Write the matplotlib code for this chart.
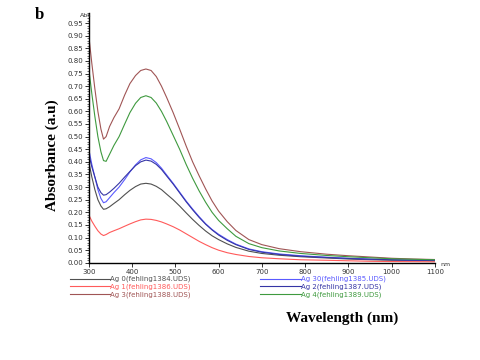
import matplotlib
matplotlib.use("Agg")
from matplotlib import pyplot as plt
from matplotlib.ticker import MultipleLocator, FormatStrFormatter

wl = [300, 307, 314, 321, 328, 334, 340, 348, 358, 370, 383, 395, 408, 420, 432,
      444, 456, 468, 480, 495, 510, 525, 540, 555, 570, 585, 600, 620, 640, 670,
      700, 740, 790, 850, 900, 950, 1000, 1050, 1100]

ag0 = [0.40, 0.34, 0.29, 0.25, 0.225, 0.212, 0.214, 0.222, 0.235, 0.25, 0.27, 0.287, 0.302, 0.312, 0.315,
       0.312, 0.303, 0.29, 0.272, 0.25, 0.225, 0.198, 0.172, 0.148, 0.126, 0.107, 0.092, 0.075, 0.061, 0.046,
       0.037, 0.030, 0.024, 0.019, 0.015, 0.012, 0.010, 0.009, 0.008]
ag1 = [0.19, 0.165, 0.145, 0.127, 0.114, 0.108, 0.112, 0.12, 0.127, 0.135, 0.145, 0.154, 0.163, 0.17, 0.173,
       0.172, 0.168, 0.162, 0.154, 0.143, 0.13, 0.115, 0.10, 0.085, 0.072, 0.06, 0.05, 0.04, 0.033, 0.025,
       0.02, 0.016, 0.012, 0.010, 0.008, 0.006, 0.005, 0.0045, 0.004]
ag3 = [0.90, 0.79, 0.69, 0.60, 0.53, 0.49, 0.50, 0.54, 0.575, 0.61, 0.665, 0.71, 0.742, 0.762, 0.768,
       0.762, 0.738, 0.70, 0.655, 0.595, 0.53, 0.463, 0.40, 0.345, 0.293, 0.245, 0.205, 0.163, 0.128, 0.092,
       0.072, 0.056, 0.044, 0.034, 0.028, 0.023, 0.018, 0.015, 0.013]
ag30 = [0.45, 0.39, 0.34, 0.29, 0.255, 0.238, 0.242, 0.258, 0.278, 0.30, 0.33, 0.36, 0.388, 0.408, 0.417,
        0.412, 0.397, 0.375, 0.348, 0.315, 0.28, 0.245, 0.213, 0.183, 0.155, 0.132, 0.113, 0.092, 0.074, 0.055,
        0.044, 0.035, 0.028, 0.022, 0.018, 0.015, 0.013, 0.011, 0.010]
ag2 = [0.43, 0.38, 0.34, 0.30, 0.278, 0.268, 0.27, 0.28, 0.295, 0.315, 0.34, 0.362, 0.385, 0.40, 0.407,
       0.403, 0.39, 0.37, 0.344, 0.312, 0.277, 0.242, 0.21, 0.18, 0.153, 0.13, 0.11, 0.089, 0.072, 0.053,
       0.042, 0.033, 0.026, 0.021, 0.017, 0.014, 0.012, 0.010, 0.009]
ag4 = [0.77, 0.67, 0.58, 0.50, 0.44, 0.405, 0.402, 0.43, 0.465, 0.50, 0.55, 0.595, 0.632, 0.655, 0.662,
       0.655, 0.633, 0.60, 0.56, 0.505, 0.45, 0.39, 0.335, 0.285, 0.24, 0.20, 0.168, 0.135, 0.105, 0.076,
       0.06, 0.047, 0.037, 0.029, 0.024, 0.020, 0.016, 0.014, 0.012]

labels = ["Ag 0(fehling1384.UDS)", "Ag 1(fehling1386.UDS)", "Ag 3(fehling1388.UDS)",
          "Ag 30(fehling1385.UDS)", "Ag 2(fehling1387.UDS)", "Ag 4(fehling1389.UDS)"]
series = [ag0, ag1, ag3, ag30, ag2, ag4]
colors = ["#505050", "#ff5a5a", "#a05555", "#5a5aff", "#3535a5", "#3f9a3f"]

fig = plt.figure(figsize=(4.8, 3.6), dpi=100)
ax = fig.add_axes([0.185, 0.27, 0.721, 0.694])

handles = []
for y, c, lab in zip(series, colors, labels):
    h, = ax.plot(wl, y, color=c, lw=0.8, label=lab)
    handles.append(h)

ax.set_xlim(300, 1100)
ax.set_ylim(0, 0.99)
ax.xaxis.set_major_locator(MultipleLocator(100))
ax.yaxis.set_major_locator(MultipleLocator(0.05))
ax.yaxis.set_minor_locator(MultipleLocator(0.01))
ax.yaxis.set_major_formatter(FormatStrFormatter("%.2f"))
ax.tick_params(labelsize=5, colors="#333333", width=0.7, length=3)
ax.tick_params(axis="y", which="minor", length=1.8, width=0.5, colors="#333333")
ax.tick_params(axis="x", pad=1.5)
ax.tick_params(axis="y", pad=1)
for s in ["top", "right"]:
    ax.spines[s].set_visible(False)
for s in ["left", "bottom"]:
    ax.spines[s].set_linewidth(1.0)

leg = fig.legend(handles=handles, ncol=2, loc="upper left", bbox_to_anchor=(0.139, 0.243),
                 frameon=False, fontsize=5, handlelength=5.8, handletextpad=0.0,
                 labelspacing=0.15, columnspacing=10.0, borderpad=0)
for t, c in zip(leg.get_texts(), colors):
    t.set_color(c)

fig.text(0.178, 0.953, "Abs", fontsize=4.5, color="#333333", ha="center")
fig.text(0.927, 0.262, "nm", fontsize=4.5, color="#333333", ha="center")
fig.text(0.073, 0.958, "b", fontsize=12, fontweight="bold", family="Liberation Serif",
         va="center")
fig.text(0.108, 0.57, "Absorbance (a.u)", rotation=90, fontsize=11, fontweight="bold",
         family="Liberation Serif", ha="center", va="center")
fig.text(0.713, 0.117, "Wavelength (nm)", fontsize=11, fontweight="bold",
         family="Liberation Serif", ha="center", va="center")

fig.savefig("out.png", dpi=100)
